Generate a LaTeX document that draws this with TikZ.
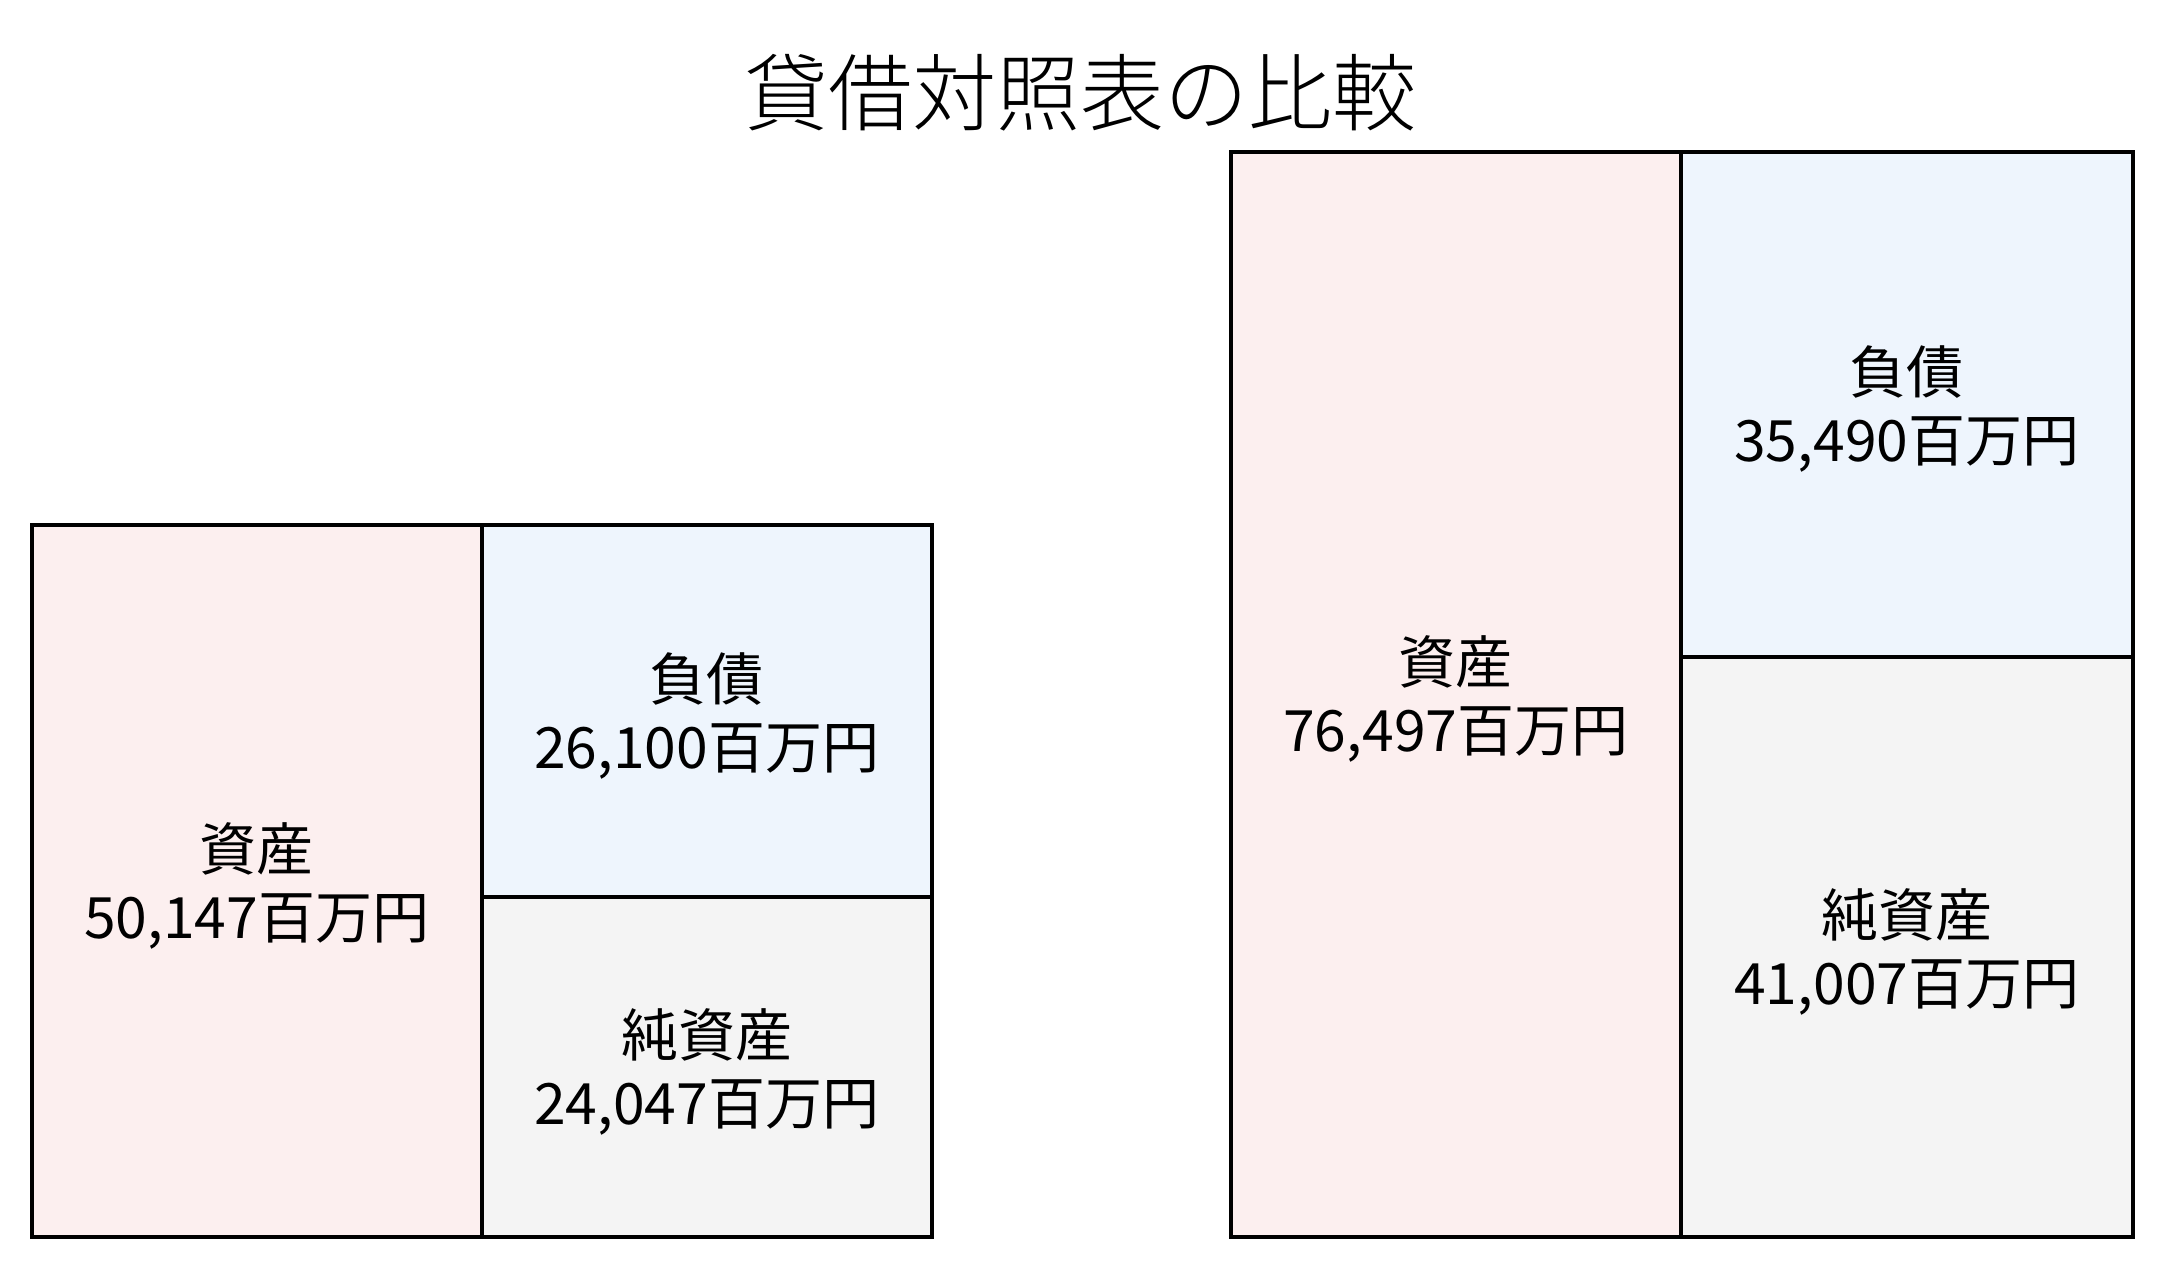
\documentclass[tikz,border=0pt]{standalone}
\usepackage{fontspec}
\setmainfont{Noto Sans CJK JP}
\newfontfamily\titlefont{Noto Sans CJK JP Light}
\begin{document}
\begin{tikzpicture}[x=1pt,y=-1pt,
  cell/.style={draw=black, line width=3.5pt, inner sep=0pt, anchor=north west},
  lbl/.style={align=center, font=\fontsize{57}{68}\selectfont, yshift=-5pt},
  asset/.style={cell, fill=assetpink},
  liab/.style={cell, fill=liabblue},
  equity/.style={cell, fill=equitygray}]
\definecolor{assetpink}{HTML}{FCEFEF}
\definecolor{liabblue}{HTML}{EEF5FD}
\definecolor{equitygray}{HTML}{F4F4F4}
\useasboundingbox (0,0) rectangle (2160,1267);
\node[font=\titlefont\fontsize{84}{100}\selectfont] (title) at (1080,93) {貸借対照表の比較};
% left balance sheet
\node[asset, minimum width=450pt, minimum height=712pt] (a1) at (30,523) {};
\node[liab, minimum width=450pt, minimum height=372pt] (l1) at (480,523) {};
\node[equity, minimum width=450pt, minimum height=340pt] (e1) at (480,895) {};
\node[lbl] (ta1) at (a1.center) {資産\\50,147百万円};
\node[lbl] (tl1) at (l1.center) {負債\\26,100百万円};
\node[lbl] (te1) at (e1.center) {純資産\\24,047百万円};
% right balance sheet
\node[asset, minimum width=450pt, minimum height=1085pt] (a2) at (1229,150) {};
\node[liab, minimum width=452pt, minimum height=505pt] (l2) at (1679,150) {};
\node[equity, minimum width=452pt, minimum height=580pt] (e2) at (1679,655) {};
\node[lbl] (ta2) at (a2.center) {資産\\76,497百万円};
\node[lbl] (tl2) at (l2.center) {負債\\35,490百万円};
\node[lbl] (te2) at (e2.center) {純資産\\41,007百万円};
\end{tikzpicture}
\end{document}
